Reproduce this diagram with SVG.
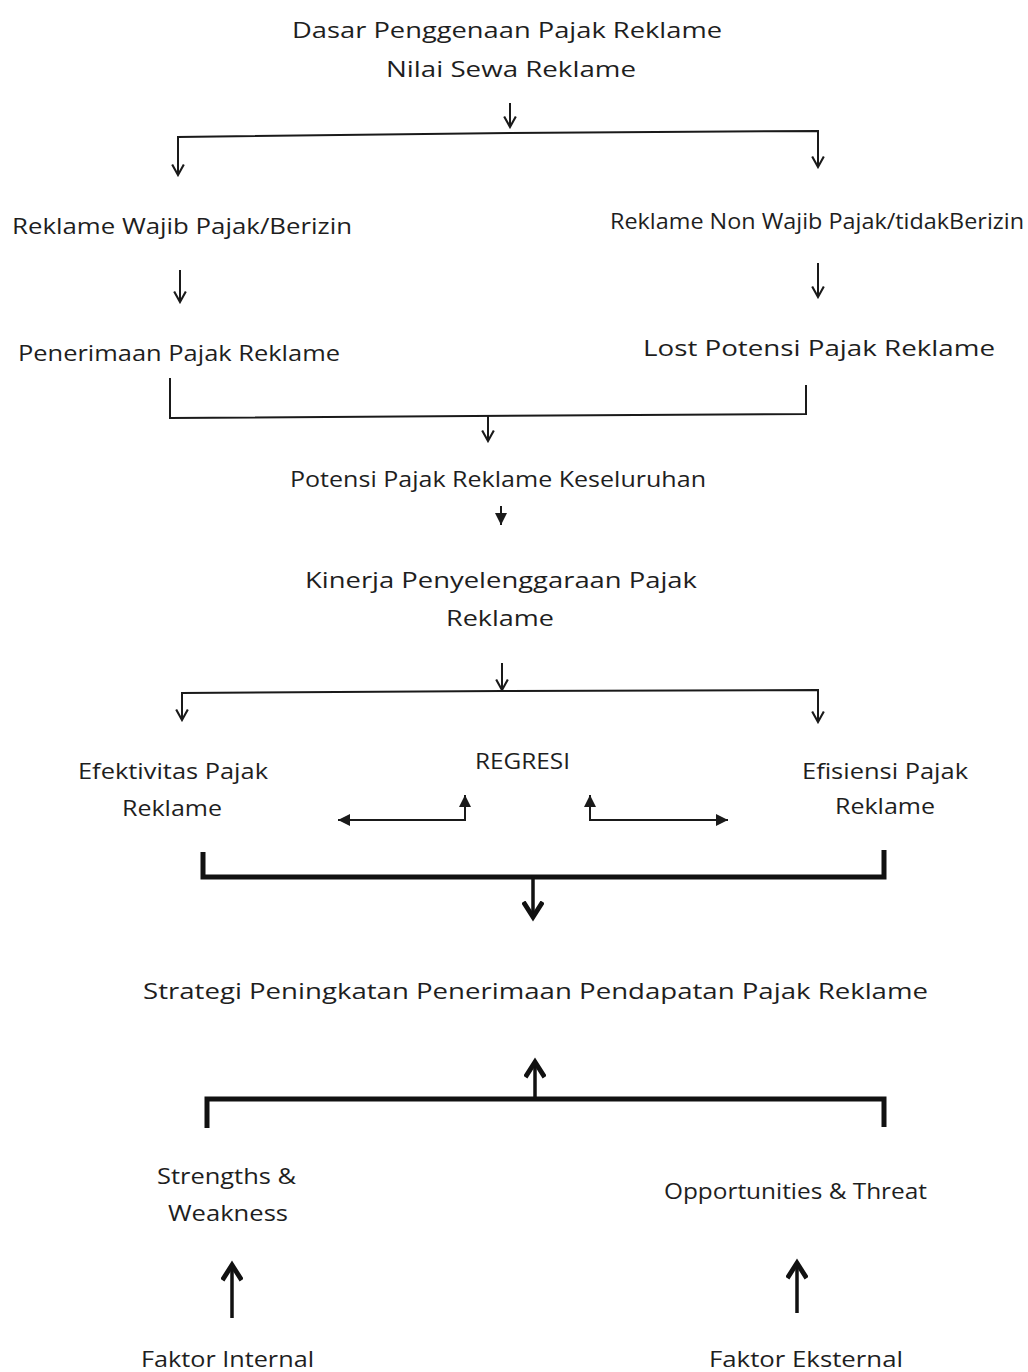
<svg xmlns="http://www.w3.org/2000/svg" width="1028" height="1372" viewBox="0 0 1028 1372">
<style>
text{font-family:"Open Sans","Noto Sans",sans-serif;font-size:22px;fill:#1e1e1e}
.c{text-anchor:middle}
.ln{stroke:#1a1a1a;stroke-width:2;fill:none}
.th{stroke:#111;stroke-width:5;fill:none}
.bd{stroke:#111;stroke-width:3.5;fill:none}
</style>
<defs>
<marker id="v" markerWidth="14" markerHeight="14" refX="10" refY="6" orient="auto" markerUnits="userSpaceOnUse" viewBox="0 0 12 12">
<path d="M1,1 L10,6 L1,11" fill="none" stroke="#1a1a1a" stroke-width="1.8"/>
</marker>
<marker id="vb" markerWidth="22" markerHeight="22" refX="12" refY="8" orient="auto" markerUnits="userSpaceOnUse" viewBox="0 0 16 16">
<path d="M1,1 L12,8 L1,15" fill="none" stroke="#111" stroke-width="3.5"/>
</marker>
<marker id="f" markerWidth="12" markerHeight="12" refX="10" refY="5" orient="auto" markerUnits="userSpaceOnUse" viewBox="0 0 10 10">
<path d="M0,0 L10,5 L0,10 Z" fill="#1a1a1a"/>
</marker>
</defs>

<g id="n-dasar"><text class="c" x="507" y="38" textLength="430" lengthAdjust="spacingAndGlyphs">Dasar Penggenaan Pajak Reklame</text><text class="c" x="511" y="77" textLength="250" lengthAdjust="spacingAndGlyphs">Nilai Sewa Reklame</text></g>
<g id="n-wajib"><text x="12" y="234" textLength="340" lengthAdjust="spacingAndGlyphs">Reklame Wajib Pajak/Berizin</text></g>
<g id="n-nonwajib"><text x="610" y="229" font-size="19" textLength="414" lengthAdjust="spacingAndGlyphs">Reklame Non Wajib Pajak/tidakBerizin</text></g>
<g id="n-penerimaan"><text x="18" y="361" textLength="322" lengthAdjust="spacingAndGlyphs">Penerimaan Pajak Reklame</text></g>
<g id="n-lost"><text x="643" y="356" font-size="23" textLength="352" lengthAdjust="spacingAndGlyphs">Lost Potensi Pajak Reklame</text></g>
<g id="n-potensi"><text x="290" y="487" textLength="416" lengthAdjust="spacingAndGlyphs">Potensi Pajak Reklame Keseluruhan</text></g>
<g id="n-kinerja"><text class="c" x="501" y="588" font-size="23" textLength="392" lengthAdjust="spacingAndGlyphs">Kinerja Penyelenggaraan Pajak</text><text class="c" x="500" y="626" font-size="23" textLength="108" lengthAdjust="spacingAndGlyphs">Reklame</text></g>
<g id="n-efektivitas"><text x="78" y="779" textLength="190" lengthAdjust="spacingAndGlyphs">Efektivitas Pajak</text><text class="c" x="172" y="816" textLength="100" lengthAdjust="spacingAndGlyphs">Reklame</text></g>
<g id="n-regresi"><text x="475" y="769" textLength="95" lengthAdjust="spacingAndGlyphs">REGRESI</text></g>
<g id="n-efisiensi"><text x="802" y="779" textLength="166" lengthAdjust="spacingAndGlyphs">Efisiensi Pajak</text><text class="c" x="885" y="814" textLength="100" lengthAdjust="spacingAndGlyphs">Reklame</text></g>
<g id="n-strategi"><text x="143" y="999" font-size="23" textLength="785" lengthAdjust="spacingAndGlyphs">Strategi Peningkatan Penerimaan Pendapatan Pajak Reklame</text></g>
<g id="n-sw"><text x="157" y="1184" textLength="139" lengthAdjust="spacingAndGlyphs">Strengths &amp;</text><text class="c" x="228" y="1221" textLength="120" lengthAdjust="spacingAndGlyphs">Weakness</text></g>
<g id="n-ot"><text x="664" y="1199" textLength="263" lengthAdjust="spacingAndGlyphs">Opportunities &amp; Threat</text></g>
<g id="n-internal"><text x="141" y="1367" textLength="173" lengthAdjust="spacingAndGlyphs">Faktor Internal</text></g>
<g id="n-eksternal"><text x="709" y="1367" textLength="194" lengthAdjust="spacingAndGlyphs">Faktor Eksternal</text></g>

<g id="connectors">
<line class="ln" x1="510" y1="103" x2="510" y2="127" marker-end="url(#v)"/>
<polyline class="ln" points="178,175 178,137 510,133 818,131 818,167" marker-end="url(#v)"/>
<line class="ln" x1="178" y1="137" x2="178" y2="175" marker-end="url(#v)"/>
<line class="ln" x1="180" y1="270" x2="180" y2="302" marker-end="url(#v)"/>
<line class="ln" x1="818" y1="263" x2="818" y2="297" marker-end="url(#v)"/>
<polyline class="ln" points="170,378 170,418 806,414 806,385"/>
<line class="ln" x1="488" y1="416" x2="488" y2="441" marker-end="url(#v)"/>
<line class="ln" x1="501" y1="506" x2="501" y2="525" marker-end="url(#f)"/>
<line class="ln" x1="502" y1="663" x2="502" y2="690" marker-end="url(#v)"/>
<polyline class="ln" points="182,720 182,693 502,691 818,690 818,722" marker-end="url(#v)"/>
<line class="ln" x1="182" y1="693" x2="182" y2="720" marker-end="url(#v)"/>
<polyline class="ln" points="465,820 338,820" marker-end="url(#f)"/>
<line class="ln" x1="465" y1="821" x2="465" y2="795" marker-end="url(#f)"/>
<polyline class="ln" points="590,820 728,820" marker-end="url(#f)"/>
<line class="ln" x1="590" y1="821" x2="590" y2="795" marker-end="url(#f)"/>
<polyline class="th" points="203,852 203,877 884,877 884,850"/>
<line class="bd" x1="533" y1="877" x2="533" y2="917" marker-end="url(#vb)"/>
<polyline class="th" points="207,1128 207,1099 884,1099 884,1127"/>
<line class="bd" x1="535" y1="1099" x2="535" y2="1062" marker-end="url(#vb)"/>
<line class="bd" x1="232" y1="1318" x2="232" y2="1265" marker-end="url(#vb)"/>
<line class="bd" x1="797" y1="1313" x2="797" y2="1263" marker-end="url(#vb)"/>
</g>
</svg>
